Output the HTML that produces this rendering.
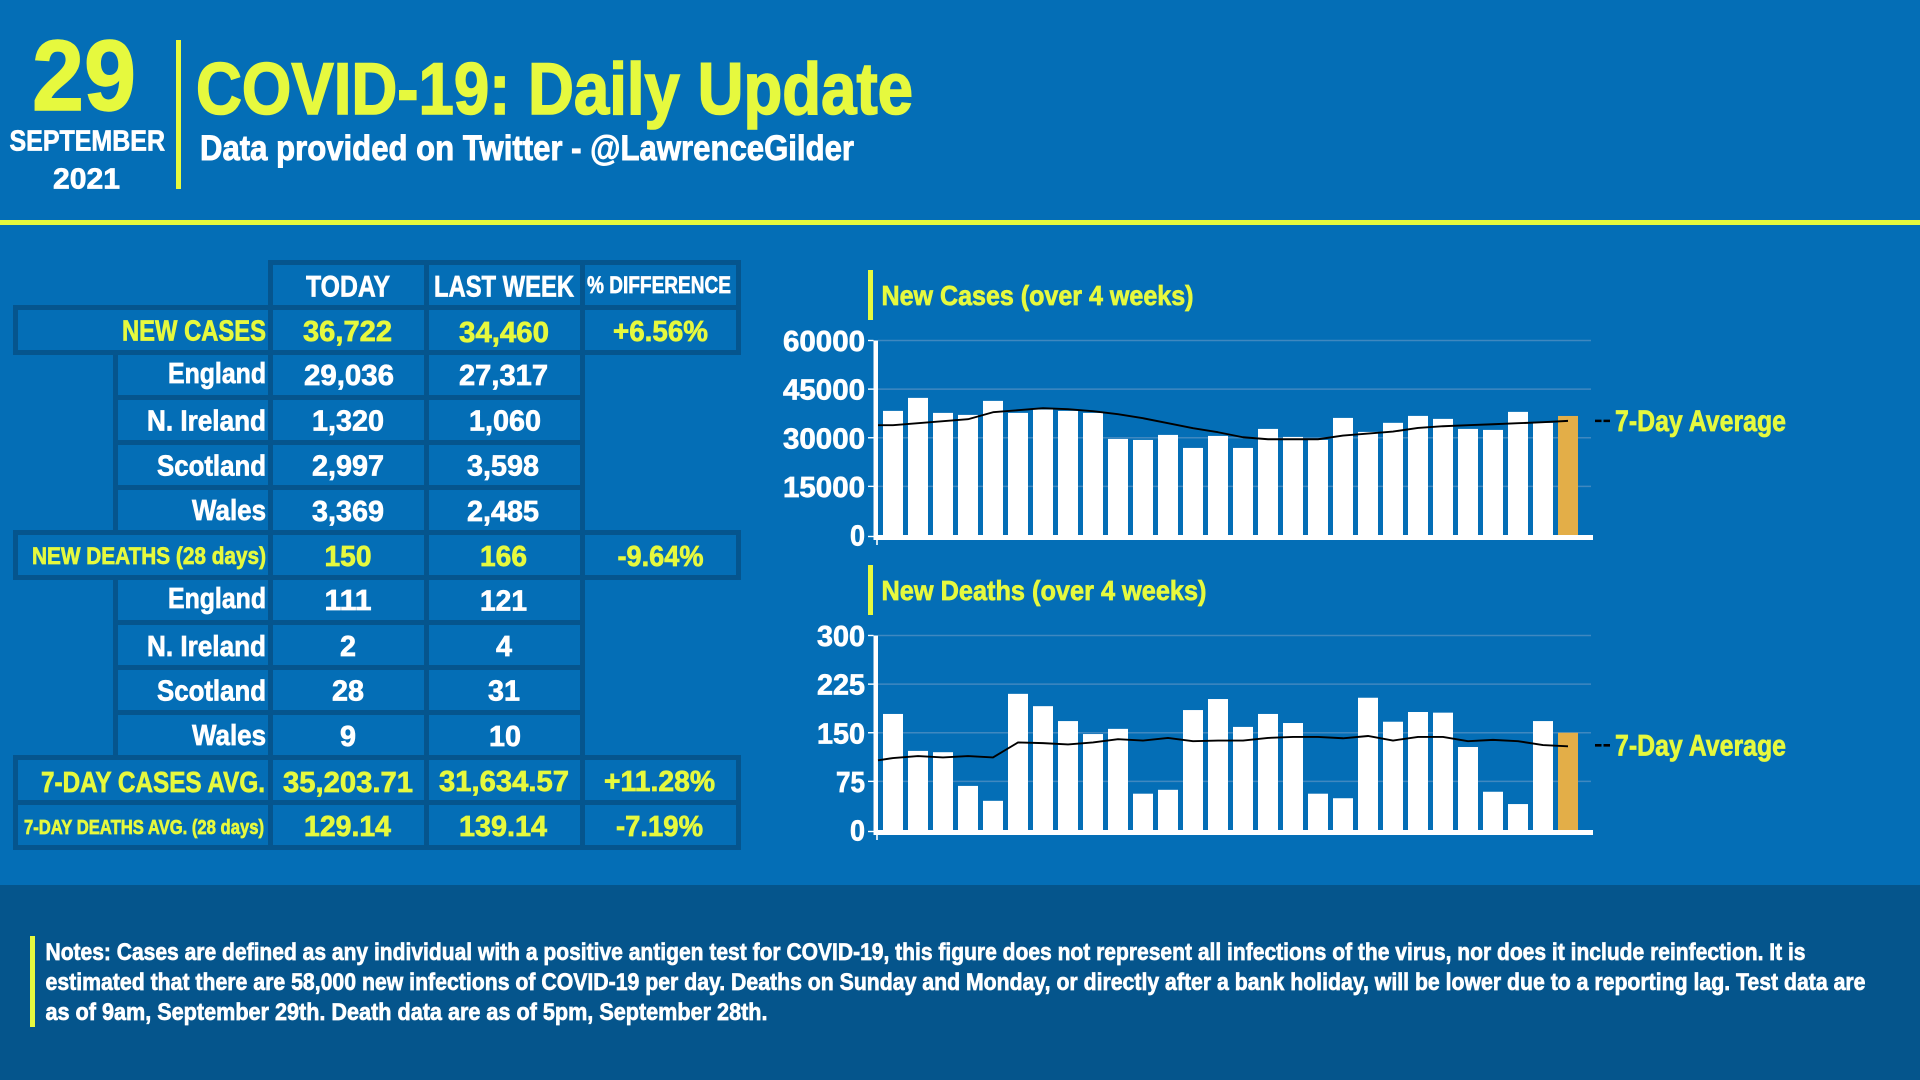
<!DOCTYPE html>
<html lang="en">
<head>
<meta charset="utf-8">
<title>COVID-19: Daily Update</title>
<style>
html,body{margin:0;padding:0;background:#046EB6;width:1920px;height:1080px;overflow:hidden}
svg{display:block;position:absolute;left:0;top:0}
text{font-family:"Liberation Sans Narrow","Liberation Sans",sans-serif;font-weight:700;stroke-width:.7px;paint-order:stroke}
.y{fill:#E6F93E;stroke:#E6F93E}
.w{fill:#fff;stroke:#fff}
.cell{fill:none;stroke:#05558E;stroke-width:5}
</style>
</head>
<body>
<svg id="stage" width="1920" height="1080" viewBox="0 0 1920 1080" xmlns="http://www.w3.org/2000/svg">
<rect x="0" y="0" width="1920" height="1080" fill="#046EB6"/>

<g>
<text class="y" x="32" y="110" font-size="100" textLength="104" lengthAdjust="spacingAndGlyphs" style="stroke-width:1.4px">29</text>
<text class="w" x="9.5" y="150.5" font-size="29" textLength="155.5" lengthAdjust="spacingAndGlyphs">SEPTEMBER</text>
<text class="w" x="53" y="188.5" font-size="29" textLength="67" lengthAdjust="spacingAndGlyphs">2021</text>
<rect x="176" y="40" width="5" height="149" fill="#E6F93E"/>
<text class="y" x="196" y="114" font-size="73" textLength="717" lengthAdjust="spacingAndGlyphs" style="stroke-width:1.6px">COVID-19: Daily Update</text>
<text class="w" x="200" y="160" font-size="35" textLength="654" lengthAdjust="spacingAndGlyphs" style="stroke-width:.9px">Data provided on Twitter - @LawrenceGilder</text>
<rect x="0" y="220" width="1920" height="5" fill="#E6F93E"/>
</g>

<g>
<g>
<rect class="cell" x="270.5" y="262.5" width="156" height="45"/>
<rect class="cell" x="426.5" y="262.5" width="156" height="45"/>
<rect class="cell" x="582.5" y="262.5" width="156" height="45"/>

<rect class="cell" x="15.5" y="307.5" width="723" height="45"/>
<rect class="cell" x="15.5" y="532.5" width="723" height="45"/>
<rect class="cell" x="15.5" y="757.5" width="723" height="45"/>
<rect class="cell" x="15.5" y="802.5" width="723" height="45"/>

<rect class="cell" x="115.5" y="352.5" width="467" height="180"/>
<rect class="cell" x="115.5" y="577.5" width="467" height="180"/>

<path class="cell" d="M115.5 397.5H582.5M115.5 442.5H582.5M115.5 487.5H582.5M115.5 622.5H582.5M115.5 667.5H582.5M115.5 712.5H582.5"/>
<path class="cell" d="M270.5 307.5V847.5M426.5 307.5V847.5M582.5 307.5V352.5M582.5 532.5V577.5M582.5 757.5V847.5"/>
</g>

<text class="w" x="306" y="296.5" font-size="30" textLength="84" lengthAdjust="spacingAndGlyphs">TODAY</text>
<text class="w" x="434" y="296.5" font-size="30" textLength="140" lengthAdjust="spacingAndGlyphs">LAST WEEK</text>
<text class="w" x="587" y="293" font-size="24" textLength="144" lengthAdjust="spacingAndGlyphs">% DIFFERENCE</text>

<text class="y" x="122" y="340.5" font-size="29" textLength="144" lengthAdjust="spacingAndGlyphs">NEW CASES</text>
<text class="y" x="303" y="341" font-size="29" textLength="89" lengthAdjust="spacingAndGlyphs">36,722</text>
<text class="y" x="459" y="342" font-size="29" textLength="90" lengthAdjust="spacingAndGlyphs">34,460</text>
<text class="y" x="613" y="341" font-size="29" textLength="95" lengthAdjust="spacingAndGlyphs">+6.56%</text>

<text class="w" x="168" y="383" font-size="29" textLength="98" lengthAdjust="spacingAndGlyphs">England</text>
<text class="w" x="304" y="385" font-size="29" textLength="90" lengthAdjust="spacingAndGlyphs">29,036</text>
<text class="w" x="459" y="385" font-size="29" textLength="89" lengthAdjust="spacingAndGlyphs">27,317</text>

<text class="w" x="147" y="430.5" font-size="29" textLength="119" lengthAdjust="spacingAndGlyphs">N. Ireland</text>
<text class="w" x="312" y="430.5" font-size="29" textLength="72" lengthAdjust="spacingAndGlyphs">1,320</text>
<text class="w" x="469" y="430.5" font-size="29" textLength="72" lengthAdjust="spacingAndGlyphs">1,060</text>

<text class="w" x="157" y="475.5" font-size="29" textLength="109" lengthAdjust="spacingAndGlyphs">Scotland</text>
<text class="w" x="312" y="475.5" font-size="29" textLength="72" lengthAdjust="spacingAndGlyphs">2,997</text>
<text class="w" x="467" y="475.5" font-size="29" textLength="72" lengthAdjust="spacingAndGlyphs">3,598</text>

<text class="w" x="192" y="520" font-size="29" textLength="74" lengthAdjust="spacingAndGlyphs">Wales</text>
<text class="w" x="312" y="521" font-size="29" textLength="72" lengthAdjust="spacingAndGlyphs">3,369</text>
<text class="w" x="467" y="521" font-size="29" textLength="72" lengthAdjust="spacingAndGlyphs">2,485</text>

<text class="y" x="32" y="564" font-size="24" textLength="234" lengthAdjust="spacingAndGlyphs">NEW DEATHS (28 days)</text>
<text class="y" x="324.5" y="566" font-size="29" textLength="47" lengthAdjust="spacingAndGlyphs">150</text>
<text class="y" x="480" y="566" font-size="29" textLength="47" lengthAdjust="spacingAndGlyphs">166</text>
<text class="y" x="617.5" y="566" font-size="29" textLength="86" lengthAdjust="spacingAndGlyphs">-9.64%</text>

<text class="w" x="168" y="608" font-size="29" textLength="98" lengthAdjust="spacingAndGlyphs">England</text>
<text class="w" x="324.5" y="610" font-size="29" textLength="47" lengthAdjust="spacingAndGlyphs">111</text>
<text class="w" x="480" y="610.5" font-size="29" textLength="47" lengthAdjust="spacingAndGlyphs">121</text>

<text class="w" x="147" y="656" font-size="29" textLength="119" lengthAdjust="spacingAndGlyphs">N. Ireland</text>
<text class="w" x="340" y="656" font-size="29" textLength="16" lengthAdjust="spacingAndGlyphs">2</text>
<text class="w" x="496" y="656" font-size="29" textLength="16" lengthAdjust="spacingAndGlyphs">4</text>

<text class="w" x="157" y="700.5" font-size="29" textLength="109" lengthAdjust="spacingAndGlyphs">Scotland</text>
<text class="w" x="332" y="700.5" font-size="29" textLength="32" lengthAdjust="spacingAndGlyphs">28</text>
<text class="w" x="488" y="700.5" font-size="29" textLength="32" lengthAdjust="spacingAndGlyphs">31</text>

<text class="w" x="192" y="745" font-size="29" textLength="74" lengthAdjust="spacingAndGlyphs">Wales</text>
<text class="w" x="340" y="746" font-size="29" textLength="16" lengthAdjust="spacingAndGlyphs">9</text>
<text class="w" x="489" y="746" font-size="29" textLength="32" lengthAdjust="spacingAndGlyphs">10</text>

<text class="y" x="41" y="792" font-size="29" textLength="224" lengthAdjust="spacingAndGlyphs">7-DAY CASES AVG.</text>
<text class="y" x="283" y="792" font-size="29" textLength="130" lengthAdjust="spacingAndGlyphs">35,203.71</text>
<text class="y" x="439" y="791" font-size="29" textLength="130" lengthAdjust="spacingAndGlyphs">31,634.57</text>
<text class="y" x="604" y="791" font-size="29" textLength="111" lengthAdjust="spacingAndGlyphs">+11.28%</text>

<text class="y" x="24" y="834" font-size="20" textLength="240" lengthAdjust="spacingAndGlyphs">7-DAY DEATHS AVG. (28 days)</text>
<text class="y" x="304" y="836" font-size="29" textLength="87" lengthAdjust="spacingAndGlyphs">129.14</text>
<text class="y" x="459" y="836" font-size="29" textLength="88" lengthAdjust="spacingAndGlyphs">139.14</text>
<text class="y" x="616" y="836" font-size="29" textLength="87" lengthAdjust="spacingAndGlyphs">-7.19%</text>
</g>

<g id="cases-chart">
<rect x="868" y="270" width="5" height="50" fill="#E6F93E"/>
<text class="y" x="881.5" y="305" font-size="28" textLength="312" lengthAdjust="spacingAndGlyphs">New Cases (over 4 weeks)</text>
</g>
<g id="deaths-chart">
<rect x="868" y="565" width="5" height="50" fill="#E6F93E"/>
<text class="y" x="881.5" y="600" font-size="28" textLength="325" lengthAdjust="spacingAndGlyphs">New Deaths (over 4 weeks)</text>
</g>

<g>
<rect x="0" y="885" width="1920" height="195" fill="#05558C"/>
<rect x="30" y="936" width="5" height="91" fill="#E6F93E"/>
<text class="w" x="45.5" y="960" font-size="24" textLength="1760" lengthAdjust="spacingAndGlyphs">Notes: Cases are defined as any individual with a positive antigen test for COVID-19, this figure does not represent all infections of the virus, nor does it include reinfection. It is</text>
<text class="w" x="45.5" y="990" font-size="24" textLength="1820" lengthAdjust="spacingAndGlyphs">estimated that there are 58,000 new infections of COVID-19 per day. Deaths on Sunday and Monday, or directly after a bank holiday, will be lower due to a reporting lag. Test data are</text>
<text class="w" x="45.5" y="1020" font-size="24" textLength="722" lengthAdjust="spacingAndGlyphs">as of 9am, September 29th. Death data are as of 5pm, September 28th.</text>
</g>
</svg>

<script>
const categories = ["Sep 2","Sep 3","Sep 4","Sep 5","Sep 6","Sep 7","Sep 8","Sep 9","Sep 10","Sep 11","Sep 12","Sep 13","Sep 14","Sep 15","Sep 16","Sep 17","Sep 18","Sep 19","Sep 20","Sep 21","Sep 22","Sep 23","Sep 24","Sep 25","Sep 26","Sep 27","Sep 28","Sep 29"];
const casesValues = [38285,42298,37667,37050,41372,37667,38700,38285,37667,29640,29331,30875,26861,30566,26861,32727,30257,29331,36120,31800,34600,36740,35820,32727,32420,37980,34600,36722];
const casesAverage = [33860,34477,35095,35712,37873,38490,39108,38800,38182,37255,36020,34477,32933,31698,30154,29537,29537,29537,30669,31286,31904,33036,33551,33860,34168,34477,34786,35204];
const casesAverageLead = 33860;
const casesTicks = [0,15000,30000,45000,60000];
const deathsValues = [179,122,120,68,45,210,191,168,148,156,56,62,185,202,159,179,165,56,49,204,167,182,181,128,59,40,168,150];
const deathsAverage = [111,114,112,114,112,135,134,132,135,140,138,142,137,138,138,142,143.5,143.5,141.5,145,138,143.5,143.5,137,139,137,131,129.14];
const deathsAverageLead = 107.5;
const deathsTicks = [0,75,150,225,300];
const highlightLabel = "Sep 29";
const legendLabel = "7-Day Average";

const SVG_NS = "http://www.w3.org/2000/svg";

function make(tag, attrs, parent) {
  const el = document.createElementNS(SVG_NS, tag);
  for (const k in attrs) el.setAttribute(k, attrs[k]);
  parent.appendChild(el);
  return el;
}

function drawChart(cfg) {
  const root = document.getElementById(cfg.id);
  const plotLeft = 878, plotRight = 1591, axisLeft = 873.5;
  const top = cfg.zeroY - 194.5;
  const pitch = 25, barW = 20, firstBar = 883;
  const maxV = cfg.ticks[cfg.ticks.length - 1];
  const yScale = function (v) { return cfg.zeroY - (v / maxV) * (cfg.zeroY - top); };
  const xLeft = function (i) { return firstBar + i * pitch; };
  const xCenter = function (i) { return xLeft(i) + barW / 2; };

  cfg.ticks.forEach(function (t) {
    const y = yScale(t);
    if (t !== 0) {
      const grid = make("line", {x1: plotLeft, x2: plotRight, y1: y, y2: y, stroke: "#3F88C0", "stroke-width": 1.6}, root);
      
      
    }
    const tick = make("line", {x1: 868, x2: axisLeft, y1: t === 0 ? y + 1.5 : y, y2: t === 0 ? y + 1.5 : y, stroke: "#fff", "stroke-width": 1.4}, root);
    
    
    const s = String(t);
    const w = s.length === 5 ? 82 : s.length * 16 - (s.length === 2 ? 3 : 0) - (s.length === 1 ? 1 : 0);
    const label = make("text", {"class": "w", x: 865 - w, y: y + 10.5, "font-size": 29, textLength: w, lengthAdjust: "spacingAndGlyphs"}, root);
    
    
    label.textContent = s;
  });

  cfg.values.forEach(function (v, i) {
    const y = yScale(v);
    const bar = make("rect", {x: xLeft(i), y: y, width: barW, height: cfg.zeroY - y, fill: categories[i] === highlightLabel ? "#E3AE48" : "#fff"}, root);
    
    
  });

  const yAxis = make("rect", {x: axisLeft, y: top, width: 4.5, height: cfg.zeroY + 5 - top, fill: "#fff"}, root);
  
  
  const xAxis = make("rect", {x: axisLeft, y: cfg.zeroY, width: 1593 - axisLeft, height: 5, fill: "#fff"}, root);
  
  
  const xTick = make("line", {x1: 877, x2: 877, y1: cfg.zeroY + 5, y2: cfg.zeroY + 10, stroke: "#fff", "stroke-width": 1.6}, root);
  
  

  let pts = plotLeft + "," + yScale(cfg.lead);
  cfg.average.forEach(function (v, i) { pts += " " + xCenter(i) + "," + yScale(v); });
  const line = make("polyline", {points: pts, fill: "none", stroke: "#000", "stroke-width": 1.9, "stroke-linejoin": "round"}, root);
  
  

  const legendY = yScale(cfg.average[cfg.average.length - 1]);
  const key = make("line", {x1: 1595, x2: 1610, y1: legendY + cfg.legendDy, y2: legendY + cfg.legendDy, stroke: "#000", "stroke-width": 2.6, "stroke-dasharray": "6.5 2"}, root);
  
  
  const legend = make("text", {"class": "y", x: 1615, y: legendY + cfg.legendDy + 10, "font-size": 30, textLength: 171, lengthAdjust: "spacingAndGlyphs"}, root);
  
  
  legend.textContent = legendLabel;
}

drawChart({id: "cases-chart", zeroY: 535, ticks: casesTicks, values: casesValues, average: casesAverage, lead: casesAverageLead, legendDy: 0});
drawChart({id: "deaths-chart", zeroY: 830, ticks: deathsTicks, values: deathsValues, average: deathsAverage, lead: deathsAverageLead, legendDy: -1});
</script>
</body>
</html>
